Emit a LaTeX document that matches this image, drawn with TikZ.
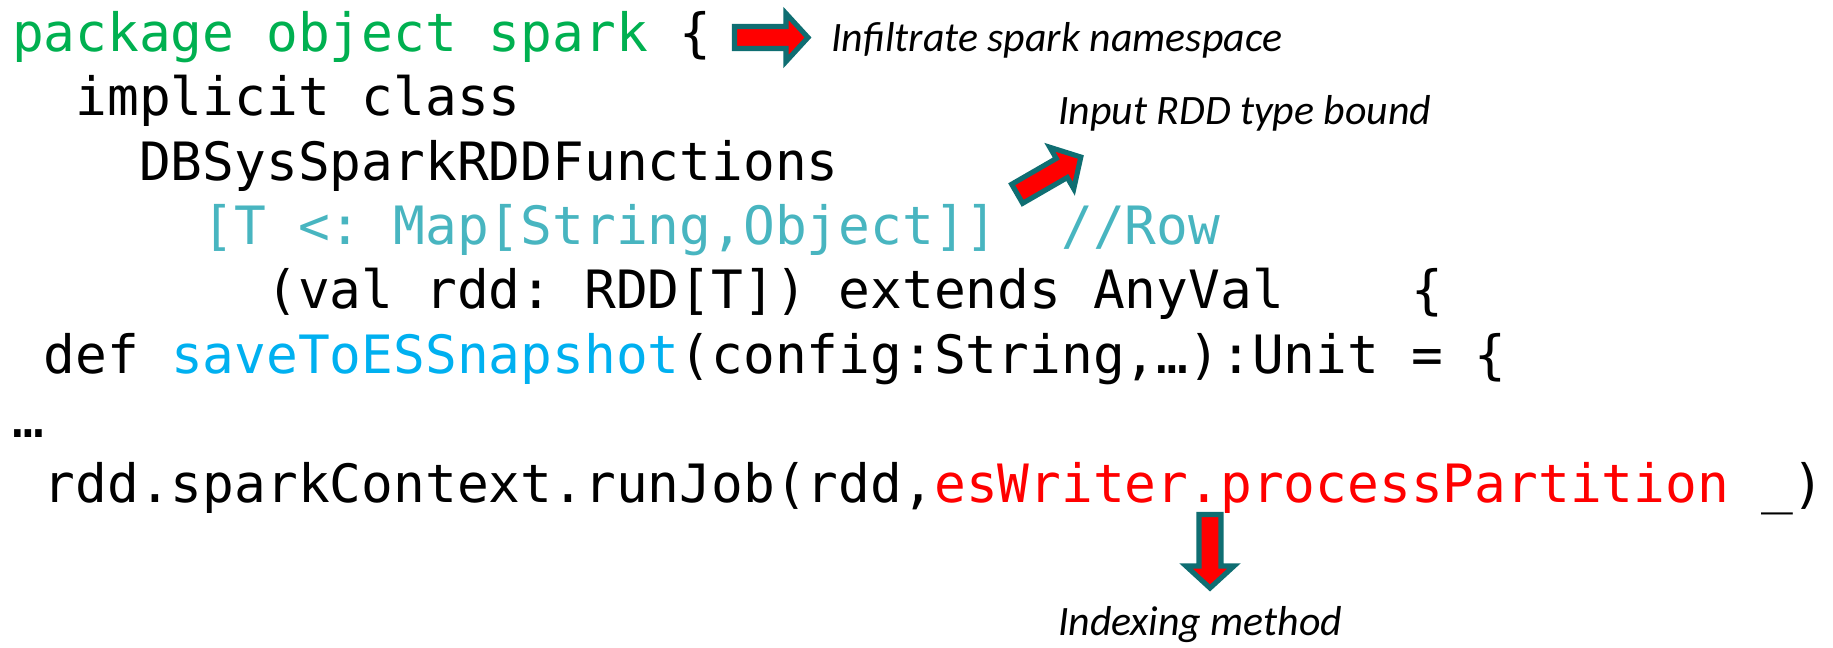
\documentclass[tikz,border=0pt]{standalone}
\usepackage{fontspec}
\newfontfamily\codefont{DejaVu Sans Mono}
\newfontfamily\notefont{Carlito}
\definecolor{pkggreen}{HTML}{00B050}
\definecolor{typeaqua}{HTML}{48B5C0}
\definecolor{methodblue}{HTML}{00B0F0}
\definecolor{callred}{HTML}{FF0000}
\definecolor{arrowrim}{HTML}{0F6E72}
\tikzset{
  code/.style={anchor=base west, inner sep=0pt, outer sep=0pt,
    font=\codefont\fontsize{15.02pt}{18pt}\selectfont\frenchspacing},
  note/.style={anchor=base west, inner sep=0pt, outer sep=0pt,
    font=\notefont\itshape\fontsize{11.9pt}{14pt}\selectfont},
  blockarrow/.pic={
    \draw[arrowrim, fill=callred, line width=1.45pt, line join=miter]
      (2.5,-11) -- (54,-11) -- (54,-24) -- (76,0) -- (54,24) -- (54,11)
      -- (2.5,11) -- cycle;
  }
}
\begin{document}
\begin{tikzpicture}[x=0.01cm, y=-0.01cm]
\useasboundingbox (0,0) rectangle (1833,647);

% code lines, one column = 31.8 units
\node[code] (l1) at (12,51.2)
  {\textcolor{pkggreen}{package object spark} \{};
\node[code] (l2) at (75.6,115.6) {implicit class};
\node[code] (l3) at (139.2,180) {DBSysSparkRDDFunctions};
\node[code, text=typeaqua] (l4) at (202.8,244.4)
  {[T <: Map[String,Object]]~~//Row};
\node[code] (l5) at (266.4,308.8)
  {(val rdd: RDD[T]) extends AnyVal~~~~\{};
\node[code] (l6) at (43.8,373.2)
  {def \textcolor{methodblue}{saveToESSnapshot}(config:String,…):Unit = \{};
\node[code] (l7) at (12,437.6) {…};
\node[code] (l8) at (43.8,502)
  {rdd.sparkContext.runJob(rdd,\textcolor{callred}{esWriter.processPartition} \_)};

% annotations
\node[note] (n1) at (831,51) {Infiltrate spark namespace};
\node[note] (n2) at (1058,124) {Input RDD type bound};
\node[note] (n3) at (1058,635) {Indexing method};

% block arrows
\pic at (732,37.5) {blockarrow};
\pic[rotate=30] at (1015,195) {blockarrow};
\pic[rotate=-90] at (1210,512) {blockarrow};
\end{tikzpicture}
\end{document}
